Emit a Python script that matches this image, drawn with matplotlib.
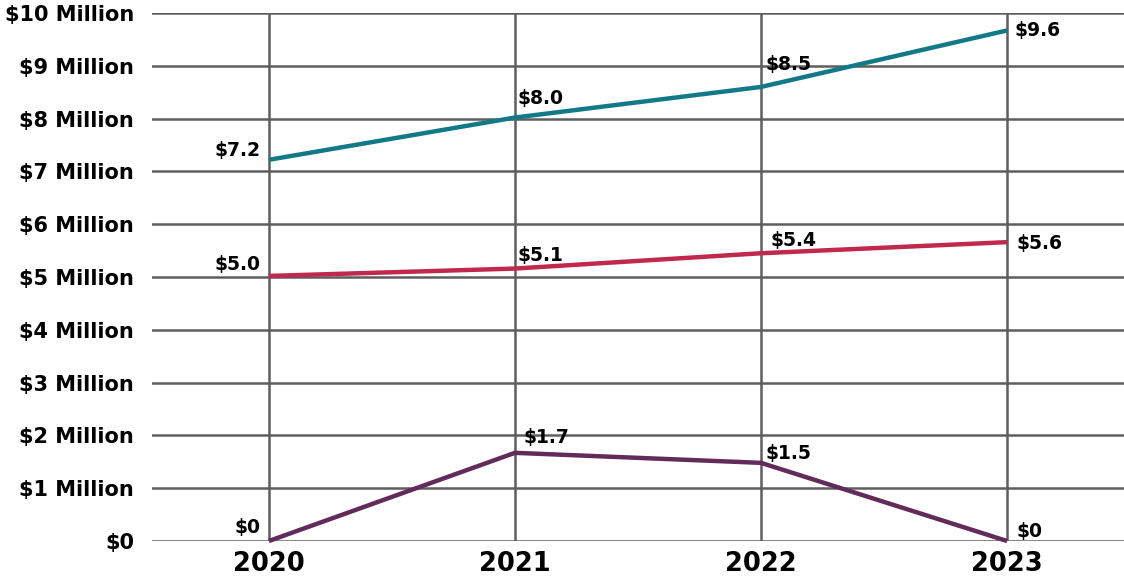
import matplotlib.pyplot as plt

years = ["2020", "2021", "2022", "2023"]
y_ticks = [0, 1, 2, 3, 4, 5, 6, 7, 8, 9, 10]
y_tick_labels = ["$0"] + [f"${v} Million" for v in range(1, 11)]

teal_vals = [7.22, 8.02, 8.6, 9.67]
teal_labels = ["$7.2", "$8.0", "$8.5", "$9.6"]
red_vals = [5.02, 5.16, 5.45, 5.66]
red_labels = ["$5.0", "$5.1", "$5.4", "$5.6"]
purple_vals = [0.0, 1.67, 1.48, 0.0]
purple_labels = ["$0", "$1.7", "$1.5", "$0"]

TEAL = "#127A86"
RED = "#C0284C"
PURPLE = "#632B5B"
GRID = "#5e5e5e"

plt.rcParams["font.family"] = ["DejaVu Sans"]
plt.rcParams["font.weight"] = "bold"

fig = plt.figure(figsize=(11.24, 5.78), dpi=100)
ax = fig.add_axes([0.1352, 0.064, 0.8648, 0.9135])

x = list(range(len(years)))

# label offsets in points (dx, dy, ha), label centred vertically
offsets = {
    "teal": [(-6, 6.5, "right"), (2, 14, "left"), (3, 16.5, "left"), (5, 0, "left")],
    "red": [(-6, 8, "right"), (2, 9.5, "left"), (6.5, 9.5, "left"), (6.5, -1, "left")],
    "purple": [(-6, 10, "right"), (6.5, 11, "left"), (3, 7, "left"), (7, 7, "left")],
}

for vals, labels, color, key in [(teal_vals, teal_labels, TEAL, "teal"),
                                 (red_vals, red_labels, RED, "red"),
                                 (purple_vals, purple_labels, PURPLE, "purple")]:
    ax.plot(x, vals, color=color, lw=3.2, solid_capstyle="butt", zorder=3,
            clip_on=False)
    for xi, v, lab, (dx, dy, ha) in zip(x, vals, labels, offsets[key]):
        ax.annotate(lab, (xi, v), xytext=(dx, dy), textcoords="offset points",
                    ha=ha, va="center", fontsize=13.5, fontweight="bold",
                    color="black", zorder=4)

ax.set_xlim(-0.475, 3.475)
ax.set_ylim(0, 10)
ax.set_xticks(x)
ax.set_xticklabels(years, fontsize=18.5, fontweight="bold")
ax.set_yticks(y_ticks)
ax.set_yticklabels(y_tick_labels, fontsize=15, fontweight="bold")
ax.tick_params(length=0, pad=13)
ax.tick_params(axis="x", pad=7)
ax.grid(True, color=GRID, lw=1.8, zorder=1)
for s in ax.spines.values():
    s.set_visible(False)

fig.savefig("out.png", dpi=100)
